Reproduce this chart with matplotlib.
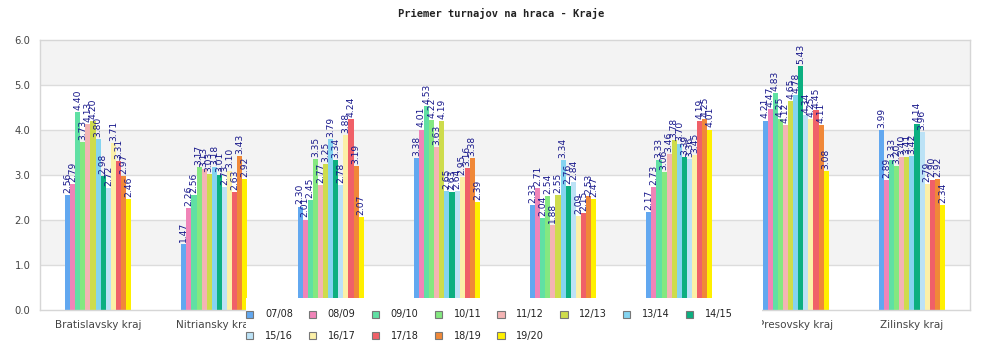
import matplotlib
matplotlib.use("Agg")
import matplotlib.pyplot as plt
from matplotlib.patches import Patch, Rectangle
import numpy as np

regions = ["Bratislavsky kraj", "Nitriansky kraj", "Trnavsky kraj", "Trenciansky kraj",
           "Banskobystricky kraj", "Kosicky kraj", "Presovsky kraj", "Zilinsky kraj"]
seasons = ["07/08", "08/09", "09/10", "10/11", "11/12", "12/13", "13/14",
           "14/15", "15/16", "16/17", "17/18", "18/19", "19/20"]

s0708 = [2.56, 1.47, 2.30, 3.38, 2.33, 2.17, 4.21, 3.99]
s0809 = [2.79, 2.26, 2.01, 4.01, 2.71, 2.73, 4.47, 2.89]
s0910 = [4.40, 2.56, 2.45, 4.53, 2.04, 3.33, 4.83, 3.33]
s1011 = [3.73, 3.17, 3.35, 4.22, 2.54, 3.06, 4.25, 3.20]
s1112 = [4.13, 3.13, 2.77, 3.63, 1.88, 3.46, 4.12, 3.40]
s1213 = [4.20, 3.03, 3.25, 4.19, 2.55, 3.78, 4.65, 3.41]
s1314 = [3.80, 3.18, 3.79, 2.65, 3.34, 3.70, 4.78, 3.42]
s1415 = [2.98, 3.01, 3.34, 2.63, 2.76, 3.39, 5.43, 4.14]
s1516 = [2.72, 2.73, 2.78, 2.64, 2.84, 3.36, 4.34, 3.96]
s1617 = [3.71, 3.10, 3.88, 2.95, 2.09, 3.45, 4.25, 2.79]
s1718 = [3.31, 2.63, 4.24, 3.16, 2.15, 4.19, 4.45, 2.90]
s1819 = [2.97, 3.43, 3.19, 3.38, 2.53, 4.25, 4.11, 2.92]
s1920 = [2.46, 2.92, 2.07, 2.39, 2.47, 4.01, 3.08, 2.34]

series = [s0708, s0809, s0910, s1011, s1112, s1213, s1314,
          s1415, s1516, s1617, s1718, s1819, s1920]

colors = ["#62a8f0", "#f084b8", "#60e0a4", "#84e880", "#f4b4b4", "#cedc4c", "#84d4f0",
          "#0caf80", "#bce2f6", "#fcf0a8", "#f06068", "#f08838", "#fff000"]

W, H = 1000, 350
fig = plt.figure(figsize=(W / 100, H / 100), dpi=100)
ax = fig.add_axes([40 / W, 40 / H, 930 / W, 270 / H])

n_groups = len(regions)
n_series = len(seasons)
x = np.arange(n_groups)
bw = 66 / 116 / n_series

# alternating background bands
for k in range(6):
    if k % 2 == 1:
        ax.axhspan(k, k + 1, color="#f3f3f3", zorder=0, lw=0)
for k in range(1, 6):
    ax.axhline(k, color="#dcdcdc", lw=1, zorder=0.5)

for j, (vals, c) in enumerate(zip(series, colors)):
    xs = x + (j - (n_series - 1) / 2) * bw
    ax.bar(xs, vals, width=bw, color=c, zorder=2, lw=0)
    for xi, v in zip(xs, vals):
        ax.annotate(f"{v:.2f}", (xi, v), xytext=(0, 1.5), textcoords="offset points",
                    rotation=90, ha="center", va="bottom", fontsize=6.6,
                    color="#16168a", zorder=3)

ax.set_xlim(-0.5, n_groups - 0.5)
ax.set_ylim(0, 6)
ax.set_yticks(np.arange(0, 7, 1))
ax.set_yticklabels([f"{t:.1f}" for t in range(7)], fontsize=7.2, color="#444444")
ax.set_xticks(x)
ax.set_xticklabels(regions, fontsize=7.5, color="#444444")
ax.tick_params(axis="both", length=0)
ax.tick_params(axis="y", pad=7)
ax.tick_params(axis="x", pad=7)
for sp in ax.spines.values():
    sp.set_color("#d6d6d6")
    sp.set_linewidth(1)

fig.text(0.501, 1 - 13 / H, "Priemer turnajov na hraca - Kraje", ha="center", va="center",
         fontsize=7.5, family="DejaVu Sans Mono", weight="bold", color="#222222")

# white panel behind the legend
fig.patches.append(Rectangle((246 / W, 0), (762 - 246) / W, (350 - 298) / H,
                             transform=fig.transFigure, facecolor="white",
                             edgecolor="none", zorder=5))

# legend entries laid out row by row (8 per row)
order = [0, 8, 1, 9, 2, 10, 3, 11, 4, 12, 5, 6, 7]
handles = [Patch(facecolor=colors[i], edgecolor="#777777", lw=0.8) for i in order]
labels = [seasons[i] for i in order]
leg = fig.legend(handles, labels, loc="upper left", ncol=8,
                 bbox_to_anchor=(246 / W, 1 - 309.5 / H), frameon=False,
                 fontsize=7, handlelength=0.75, handleheight=0.75,
                 handletextpad=1.2, columnspacing=1.65, labelspacing=1.15,
                 borderpad=0, borderaxespad=0)
leg.set_zorder(6)
for t in leg.get_texts():
    t.set_color("#222222")

fig.savefig("out.png", dpi=100)
